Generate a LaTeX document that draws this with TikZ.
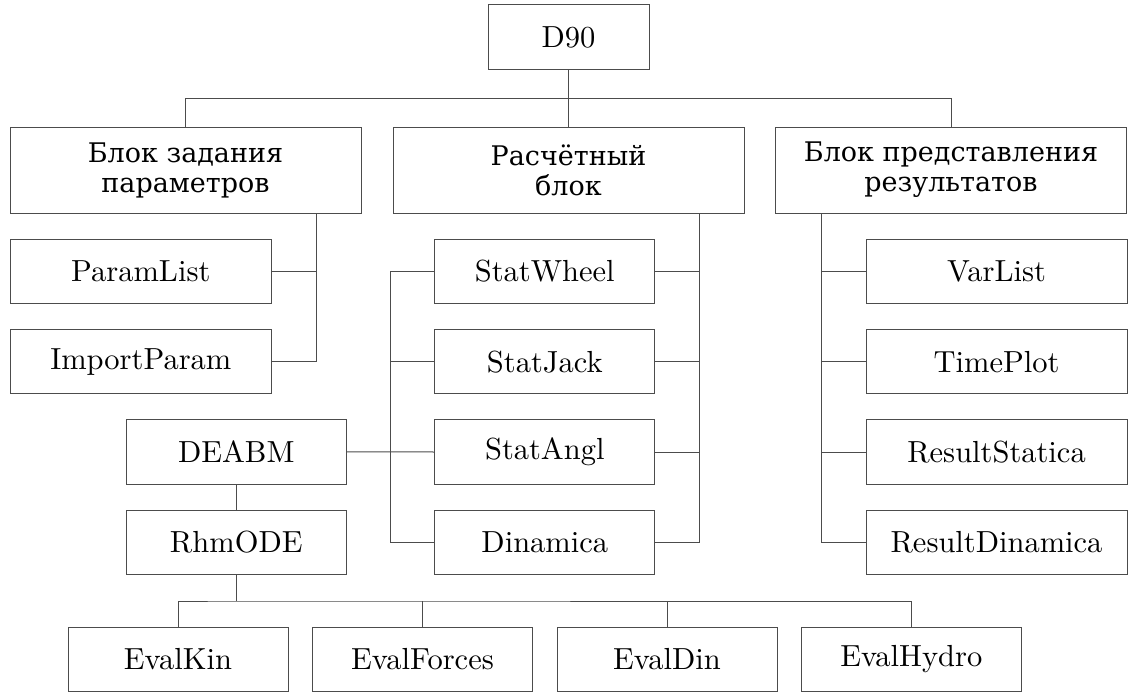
\documentclass[tikz,border=0pt]{standalone}
\usepackage{fontspec}
\usepackage{tikz}
\setmainfont{lmroman10-regular.otf}
\newfontfamily\cyrfont{DejaVu Serif}

\begin{document}
\begin{tikzpicture}[
        x=1pt, y=-1pt,
        every node/.style={draw, black!70, text=black, line width=1pt, inner sep=0pt,
            font=\fontsize{30.5}{30}\selectfont},
        block/.style={minimum width=351pt, minimum height=86pt, align=center,
            font=\cyrfont\fontsize{27}{30}\selectfont},
        unit/.style={minimum width=220pt, minimum height=64.5pt},
        wideunit/.style={minimum width=261pt, minimum height=64.5pt},
        wire/.style={line width=1pt, black!70}
    ]
        \useasboundingbox (0,0) rectangle (1128,693);
        % top level
        \node[minimum width=161pt, minimum height=65pt] (d90) at (568.5,37.5) {D90};
        \node[block] (param) at (185.5,170) {Блок задания\\параметров};
        \node[block] (calc) at (568.5,170) {Расчётный\\блок};
        \node[block] (result) at (951,170) {Блок представления\\результатов};
        % parameters
        \node[wideunit] (plist) at (140.8,271.3) {ParamList};
        \node[wideunit] (iparam) at (140.8,361.7) {ImportParam};
        % calculation
        \node[unit] (wheel) at (544.8,271.5) {StatWheel};
        \node[unit] (jack) at (544.8,361.7) {StatJack};
        \node[unit] (angl) at (544.8,452) {StatAngl};
        \node[unit] (dyn) at (544.8,542.4) {Dinamica};
        \node[unit] (deabm) at (236.3,451.8) {DEABM};
        \node[unit] (rhm) at (236.3,542.4) {RhmODE};
        % evaluation
        \node[unit, minimum height=64pt] (ekin) at (178,659.2) {EvalKin};
        \node[unit, minimum height=64pt] (eforce) at (422.5,659.2) {EvalForces};
        \node[unit, minimum height=64pt] (edin) at (667,659.2) {EvalDin};
        \node[unit, minimum height=64pt] (ehydro) at (911.3,659.2) {EvalHydro};
        % results
        \node[wideunit] (var) at (996.5,271.3) {VarList};
        \node[wideunit] (tplot) at (996.5,361.7) {TimePlot};
        \node[wideunit] (rstat) at (996.5,452) {ResultStatica};
        \node[wideunit] (rdyn) at (996.5,542.4) {ResultDinamica};

        \coordinate (topbus) at (568.5,98.7);
        \coordinate (ebus) at (236.3,601);
        \coordinate (pspine) at (316.3,0);
        \coordinate (lspine) at (390.7,0);
        \coordinate (rspine) at (699,0);
        \coordinate (sspine) at (821.3,0);

        \draw[wire] (d90) -- (calc);
        \draw[wire] (param.north) |- (topbus) -| (result.north);
        \draw[wire] (param.south -| pspine) |- (iparam.east);
        \draw[wire] (plist.east) -- (plist.east -| pspine);
        \draw[wire] (calc.south -| rspine) |- (dyn.east);
        \foreach \n in {wheel,jack,angl}
            \draw[wire] (\n.east) -- (\n.east -| rspine);
        \draw[wire] (wheel.west) -| (lspine |- dyn.west) -- (dyn.west);
        \draw[wire] (jack.west) -- (jack.west -| lspine);
        \draw[wire] (deabm.east) -- (angl.west);
        \draw[wire] (deabm) -- (rhm);
        \draw[wire] (rhm) -- (ebus);
        \draw[wire] (ekin.north) |- (ebus) -| (ehydro.north);
        \foreach \n in {eforce,edin}
            \draw[wire] (\n.north) -- (\n.north |- ebus);
        \draw[wire] (result.south -| sspine) |- (rdyn.west);
        \foreach \n in {var,tplot,rstat}
            \draw[wire] (\n.west) -- (\n.west -| sspine);
    \end{tikzpicture}
\end{document}
